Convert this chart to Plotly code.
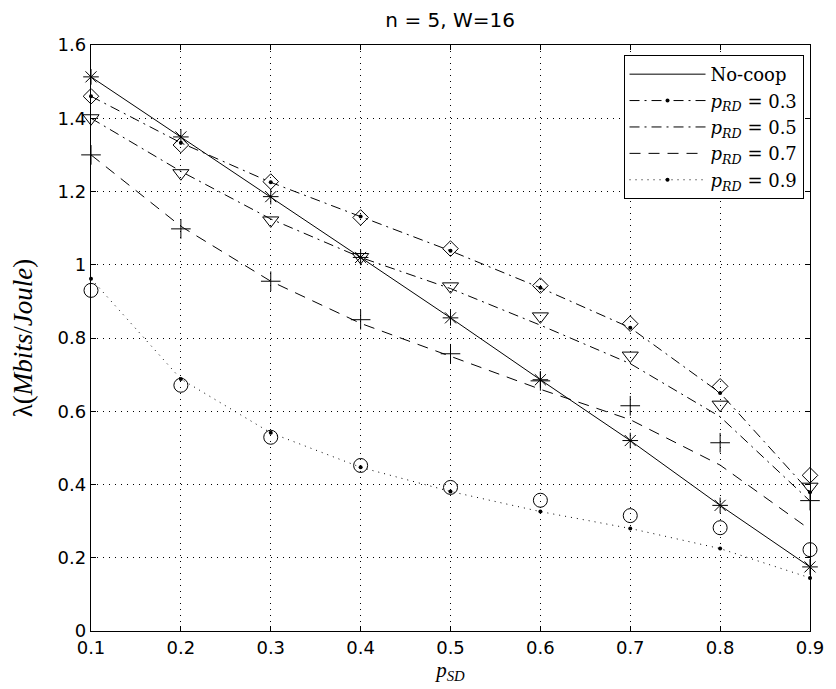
import plotly.graph_objects as go

p_sd = [0.1, 0.2, 0.3, 0.4, 0.5, 0.6, 0.7, 0.8, 0.9]

# analytical curves
nocoop = [1.513, 1.349, 1.186, 1.02, 0.855, 0.686, 0.52, 0.343, 0.175]
prd03 = [1.46, 1.333, 1.225, 1.132, 1.038, 0.937, 0.828, 0.65, 0.379]
prd05 = [1.40, 1.255, 1.125, 1.02, 0.935, 0.835, 0.73, 0.585, 0.355]
prd07 = [1.30, 1.105, 0.955, 0.84, 0.75, 0.66, 0.577, 0.453, 0.277]
prd09 = [0.962, 0.688, 0.541, 0.447, 0.381, 0.326, 0.28, 0.225, 0.145]

# simulation points
sim03 = [1.46, 1.327, 1.227, 1.129, 1.044, 0.943, 0.839, 0.668, 0.425]
sim05 = [1.40, 1.25, 1.121, 1.021, 0.941, 0.859, 0.752, 0.618, 0.394]
sim07 = [1.30, 1.098, 0.955, 0.85, 0.757, 0.683, 0.615, 0.514, 0.356]
sim09 = [0.93, 0.671, 0.529, 0.452, 0.392, 0.357, 0.315, 0.282, 0.222]

x_ticks = [0.1, 0.2, 0.3, 0.4, 0.5, 0.6, 0.7, 0.8, 0.9]
y_ticks = [0, 0.2, 0.4, 0.6, 0.8, 1.0, 1.2, 1.4, 1.6]
y_tick_labels = ["0", "0.2", "0.4", "0.6", "0.8", "1", "1.2", "1.4", "1.6"]

fig = go.Figure()
K = "black"
serif = "Liberation Serif"
sans = "DejaVu Sans"

fig.add_trace(go.Scatter(x=p_sd, y=nocoop, mode="lines", name="No-coop",
                         line=dict(color=K, width=1), cliponaxis=False))
fig.add_trace(go.Scatter(x=p_sd, y=prd03, mode="lines+markers",
                         name="<i>p<sub>RD</sub></i> = 0.3", cliponaxis=False,
                         line=dict(color=K, width=1, dash="10px,5px,2px,5px"),
                         marker=dict(symbol="circle", size=4, color=K)))
fig.add_trace(go.Scatter(x=p_sd, y=prd05, mode="lines",
                         name="<i>p<sub>RD</sub></i> = 0.5", cliponaxis=False,
                         line=dict(color=K, width=1, dash="10px,5px,2px,5px")))
fig.add_trace(go.Scatter(x=p_sd, y=prd07, mode="lines",
                         name="<i>p<sub>RD</sub></i> = 0.7", cliponaxis=False,
                         line=dict(color=K, width=1, dash="11px,8px")))
fig.add_trace(go.Scatter(x=p_sd, y=prd09, mode="lines+markers",
                         name="<i>p<sub>RD</sub></i> = 0.9", cliponaxis=False,
                         line=dict(color=K, width=1, dash="1px,5px"),
                         marker=dict(symbol="circle", size=4, color=K)))

mk = dict(color=K, line=dict(color=K, width=1))
fig.add_trace(go.Scatter(x=p_sd, y=nocoop, mode="markers", showlegend=False, cliponaxis=False,
                         marker=dict(symbol="asterisk-open", size=13, **mk)))
fig.add_trace(go.Scatter(x=p_sd, y=sim03, mode="markers", showlegend=False, cliponaxis=False,
                         marker=dict(symbol="diamond-open", size=12, **mk)))
fig.add_trace(go.Scatter(x=p_sd, y=sim05, mode="markers", showlegend=False, cliponaxis=False,
                         marker=dict(symbol="triangle-down-open", size=14, **mk)))
fig.add_trace(go.Scatter(x=p_sd, y=sim07, mode="markers", showlegend=False, cliponaxis=False,
                         marker=dict(symbol="cross-thin-open", size=14, **mk)))
fig.add_trace(go.Scatter(x=p_sd, y=sim09, mode="markers", showlegend=False, cliponaxis=False,
                         marker=dict(symbol="circle-open", size=14, **mk)))

axis_common = dict(
    showline=True, linecolor=K, linewidth=1.3, mirror="allticks",
    ticks="inside", ticklen=5, tickcolor=K, tickwidth=1,
    showgrid=True, gridcolor=K, gridwidth=1, griddash="1px,5px",
    zeroline=False,
    tickfont=dict(family=sans, size=18, color=K),
)

# the page body adds an 8px offset; figure is sized to fill the 836x689 window
fig.update_layout(
    width=828, height=681,
    margin=dict(l=74, r=18, t=37, b=58),
    paper_bgcolor="white", plot_bgcolor="white",
    title=dict(text="n = 5, W=16", x=0.534, xanchor="center", y=0.982, yanchor="middle",
               font=dict(family=sans, size=20, color=K)),
    xaxis=dict(range=[0.1, 0.9], tickvals=x_ticks, ticktext=[str(v) for v in x_ticks],
               title=dict(text="<i>p<sub>SD</sub></i>", standoff=2,
                          font=dict(family=serif, size=21, color=K)),
               **axis_common),
    yaxis=dict(range=[0, 1.6], tickvals=y_ticks, ticktext=y_tick_labels,
               title=dict(text="λ(<i>Mbits</i>/<i>Joule</i>)", standoff=19,
                          font=dict(family=serif, size=27, color=K)),
               **axis_common),
    legend=dict(x=0.991, xanchor="right", y=0.983, yanchor="top",
                bgcolor="white", bordercolor=K, borderwidth=1,
                font=dict(family="DejaVu Serif", size=18, color=K),
                tracegroupgap=0, itemwidth=76),
    showlegend=True,
)

fig.write_html("out.html")
